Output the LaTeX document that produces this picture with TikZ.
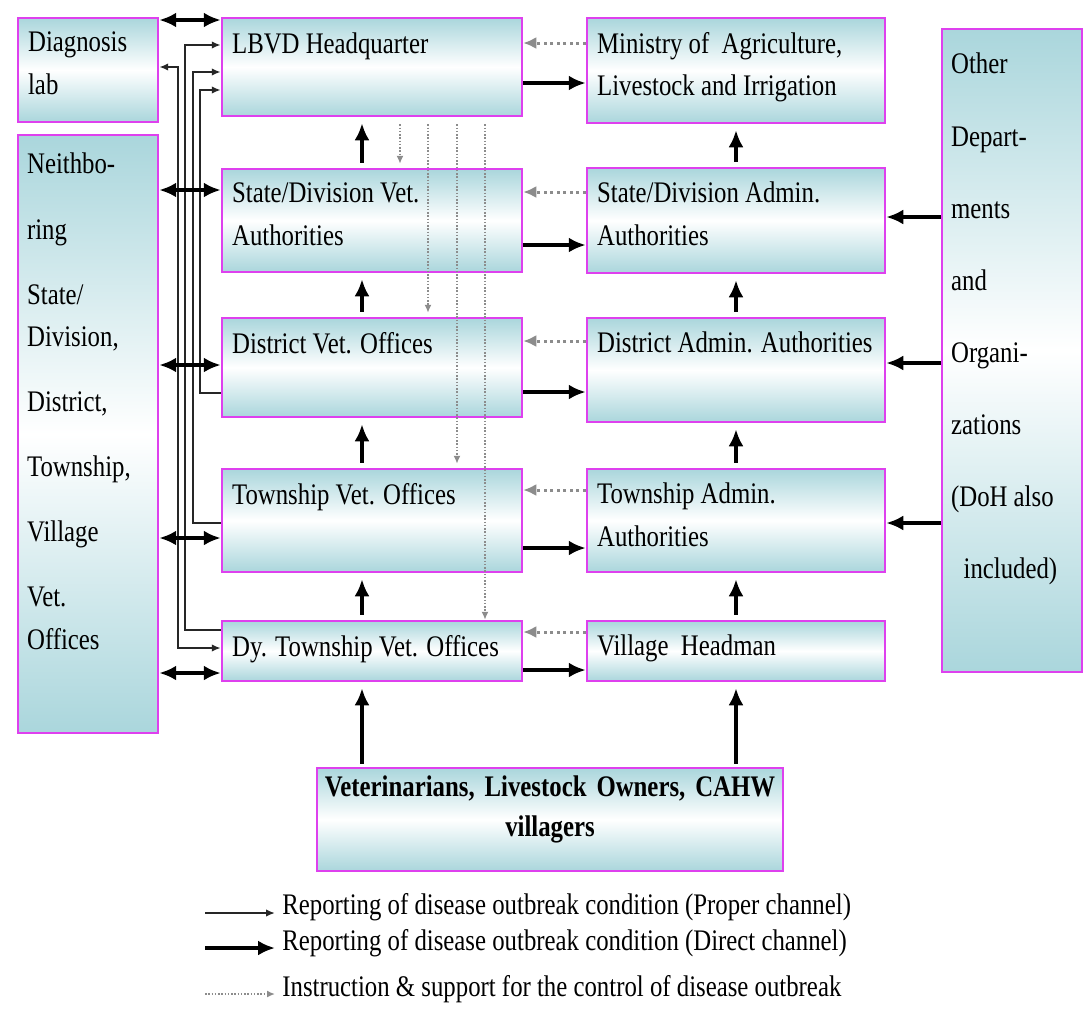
\documentclass[tikz,border=0pt]{standalone}
\usepackage{fontspec}
\setmainfont[FakeStretch=0.83]{Liberation Serif}
\usepackage{tikz}
\usetikzlibrary{arrows.meta,fit,calc}

\definecolor{boxteal}{RGB}{170,214,220}
\definecolor{boxedge}{RGB}{222,64,238}
\definecolor{instrgray}{RGB}{140,140,140}
\newcommand{\boxfont}{\fontsize{17}{24}\selectfont}

\tikzset{
  orgbox/.style={draw=boxedge, line width=0.05cm, top color=boxteal, bottom color=boxteal, middle color=white, inner sep=0pt},
  boxtext/.style={anchor=north west, inner sep=0pt, align=left, font=\boxfont},
  direct/.style={line width=0.085cm, >={Latex[length=0.34cm,width=0.3cm]}},
  proper/.style={line width=0.04cm, black!85, >={Latex[length=0.18cm,width=0.15cm]}},
  instr/.style={line width=0.06cm, instrgray, dotted, >={Latex[length=0.26cm,width=0.24cm]}},
  instrv/.style={line width=0.03cm, instrgray, densely dotted, >={Latex[length=0.16cm,width=0.14cm]}},
}

\begin{document}
\begin{tikzpicture}[x=0.02cm, y=-0.02cm]
  \useasboundingbox (0,0) rectangle (1089,1009);
  % boxes
  \node[orgbox, fit={(18,18) (158,122)}] (lab) {};
  \node[orgbox, fit={(18,135) (158,733)}] (nbr) {};
  \node[orgbox, fit={(222,18) (522,116)}] (lbvd) {};
  \node[orgbox, fit={(587,18) (885,123)}] (min) {};
  \node[orgbox, fit={(222,169) (522,272)}] (sdv) {};
  \node[orgbox, fit={(587,168) (885,273)}] (sda) {};
  \node[orgbox, fit={(222,318) (522,417)}] (dv) {};
  \node[orgbox, fit={(587,318) (885,422)}] (da) {};
  \node[orgbox, fit={(222,469) (522,572)}] (tv) {};
  \node[orgbox, fit={(587,469) (885,572)}] (ta) {};
  \node[orgbox, fit={(222,621) (522,681)}] (dy) {};
  \node[orgbox, fit={(587,621) (885,681)}] (vh) {};
  \node[orgbox, fit={(942,29) (1082,672)}] (oth) {};
  \node[orgbox, fit={(317,768) (783,871)}, font=\boxfont\bfseries, align=center] (vet) {Veterinarians, Livestock Owners, CAHW\\[-1pt]villagers};

  % box texts
  \node[boxtext] (lab-t) at ($(lab.north west)+(11,15)$) {Diagnosis\\lab};
  \node[boxtext] (nbr-t) at ($(nbr.north west)+(10,19)$) {Neithbo-\\[0.46cm]ring\\[0.46cm]State/\\Division,\\[0.46cm]District,\\[0.46cm]Township,\\[0.46cm]Village\\[0.46cm]Vet.\\Offices};
  \node[boxtext] (lbvd-t) at ($(lbvd.north west)+(11,16)$) {LBVD Headquarter};
  \node[boxtext] (min-t) at ($(min.north west)+(11,15)$) {Ministry of~ Agriculture,\\Livestock and Irrigation};
  \node[boxtext] (sdv-t) at ($(sdv.north west)+(11,15)$) {State/Division Vet.\\Authorities};
  \node[boxtext] (sda-t) at ($(sda.north west)+(11,15)$) {State/Division Admin.\\Authorities};
  \node[boxtext] (dv-t) at ($(dv.north west)+(11,15)$) {District Vet. Offices};
  \node[boxtext] (da-t) at ($(da.north west)+(11,15)$) {District Admin. Authorities};
  \node[boxtext] (tv-t) at ($(tv.north west)+(11,15)$) {Township Vet. Offices};
  \node[boxtext] (ta-t) at ($(ta.north west)+(11,15)$) {Township Admin.\\Authorities};
  \node[boxtext] (dy-t) at ($(dy.north west)+(11,15)$) {Dy. Township Vet. Offices};
  \node[boxtext] (vh-t) at ($(vh.north west)+(11,15)$) {Village~ Headman};
  \node[boxtext] (oth-t) at ($(oth.north west)+(10,25)$) {Other\\[0.6cm]Depart-\\[0.6cm]ments\\[0.6cm]and\\[0.6cm]Organi-\\[0.6cm]zations\\[0.6cm](DoH also\\[0.6cm]\hspace{0.25cm}included)};

  % proper channel to headquarter and lab
  \draw[proper,<->] (lab.east |- 0,67) -| (178,648) -- (dy.west |- 0,648);
  \draw[proper,->] (dy.west |- 0,630) -| (185,45) -- (lbvd.west |- 0,45);
  \draw[proper,->] (tv.west |- 0,523) -| (193,72) -- (lbvd.west |- 0,72);
  \draw[proper,->] (dv.west |- 0,393) -| (200,90) -- (lbvd.west |- 0,90);

  % neighbouring offices and lab
  \draw[direct,<->] (lab.east |- 0,20) -- (lbvd.west |- 0,20);
  \draw[direct,<->] (nbr.east |- 0,190) -- (sdv.west |- 0,190);
  \draw[direct,<->] (nbr.east |- 0,365) -- (dv.west |- 0,365);
  \draw[direct,<->] (nbr.east |- 0,538) -- (tv.west |- 0,538);
  \draw[direct,<->] (nbr.east |- 0,673) -- (dy.west |- 0,673);

  % vet column to admin column
  \draw[direct,->] (lbvd.east |- 0,83) -- (min.west |- 0,83);
  \draw[direct,->] (sdv.east |- 0,245) -- (sda.west |- 0,245);
  \draw[direct,->] (dv.east |- 0,392) -- (da.west |- 0,392);
  \draw[direct,->] (tv.east |- 0,548) -- (ta.west |- 0,548);
  \draw[direct,->] (dy.east |- 0,670) -- (vh.west |- 0,670);

  % instruction back
  \draw[instr,->] (min.west |- 0,43) -- (lbvd.east |- 0,43);
  \draw[instr,->] (sda.west |- 0,192) -- (sdv.east |- 0,192);
  \draw[instr,->] (da.west |- 0,341) -- (dv.east |- 0,341);
  \draw[instr,->] (ta.west |- 0,490) -- (tv.east |- 0,490);
  \draw[instr,->] (vh.west |- 0,632) -- (dy.east |- 0,632);

  % instruction down from headquarter
  \draw[instrv,->, shorten <=0.14cm, shorten >=0.08cm] (400,0 |- lbvd.south) -- (400,0 |- sdv.north);
  \draw[instrv,->, shorten <=0.14cm, shorten >=0.08cm] (428,0 |- lbvd.south) -- (428,0 |- dv.north);
  \draw[instrv,->, shorten <=0.14cm, shorten >=0.08cm] (457,0 |- lbvd.south) -- (457,0 |- tv.north);
  \draw[instrv,->, shorten <=0.14cm] (485,0 |- lbvd.south) -- (485,0 |- dy.north);

  % reporting up
  \draw[direct,->, shorten <=0.1cm, shorten >=0.12cm] (362,0 |- sdv.north) -- (362,0 |- lbvd.south);
  \draw[direct,->, shorten <=0.1cm, shorten >=0.12cm] (362,0 |- dv.north) -- (362,0 |- sdv.south);
  \draw[direct,->, shorten <=0.1cm, shorten >=0.12cm] (362,0 |- tv.north) -- (362,0 |- dv.south);
  \draw[direct,->, shorten <=0.1cm, shorten >=0.12cm] (362,0 |- dy.north) -- (362,0 |- tv.south);
  \draw[direct,->, shorten <=0.1cm, shorten >=0.12cm] (sda.north) -- (min.south);
  \draw[direct,->, shorten <=0.1cm, shorten >=0.12cm] (da.north) -- (sda.south);
  \draw[direct,->, shorten <=0.1cm, shorten >=0.12cm] (ta.north) -- (da.south);
  \draw[direct,->, shorten <=0.1cm, shorten >=0.12cm] (vh.north) -- (ta.south);
  \draw[direct,->, shorten <=0.06cm, shorten >=0.12cm] (362,0 |- vet.north) -- (362,0 |- dy.south);
  \draw[direct,->, shorten <=0.06cm, shorten >=0.12cm] (vet.north -| vh.south) -- (vh.south);

  % other departments
  \draw[direct,->] (oth.west |- 0,217) -- (sda.east |- 0,217);
  \draw[direct,->] (oth.west |- 0,363) -- (da.east |- 0,363);
  \draw[direct,->] (oth.west |- 0,523) -- (ta.east |- 0,523);

  % legend
  \node[boxtext, anchor=west] (leg1) at (282,907) {Reporting of disease outbreak condition (Proper channel)};
  \node[boxtext, anchor=west] (leg2) at (282,943) {Reporting of disease outbreak condition (Direct channel)};
  \node[boxtext, anchor=west] (leg3) at (282,989) {Instruction \& support for the control of disease outbreak};
  \coordinate (l1a) at (205,913);
  \coordinate (l2a) at (205,948);
  \coordinate (l3a) at (205,994);
  \draw[proper,->, shorten >=0.14cm] (l1a) -- (l1a -| leg1.west);
  \draw[direct,->, shorten >=0.14cm] (l2a) -- (l2a -| leg2.west);
  \draw[instrv,->, line width=0.04cm, shorten >=0.14cm] (l3a) -- (l3a -| leg3.west);
\end{tikzpicture}
\end{document}
